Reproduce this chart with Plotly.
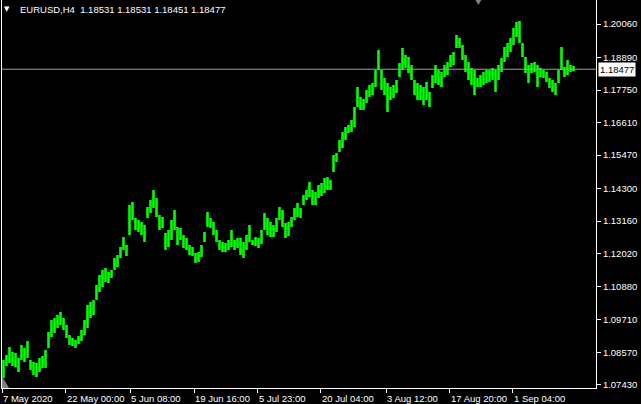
import plotly.graph_objects as go

symbol_title = "EURUSD,H4\u00a0\u00a01.18531 1.18531 1.18451 1.18477"
last_price = 1.18477

highs = [
    1.0830, 1.08475, 1.08755, 1.0858, 1.08545, 1.0837, 1.08825, 1.0872, 1.08965, 1.0830,
    1.0823, 1.08195, 1.0837, 1.0844, 1.0865, 1.0928, 1.0970, 1.0977, 1.09875, 1.0998,
    1.0977, 1.09525, 1.09175, 1.0907, 1.0900, 1.0914, 1.0935, 1.0970, 1.10225, 1.1033,
    1.1040, 1.10925, 1.11275, 1.1145, 1.1152, 1.1138, 1.1145, 1.1187, 1.11975, 1.12255,
    1.12605, 1.12325, 1.13725, 1.1383, 1.1327, 1.1320, 1.1313, 1.13025, 1.13655, 1.1390,
    1.1425, 1.1397, 1.13375, 1.13305, 1.12745, 1.1285, 1.1320, 1.1355, 1.12955, 1.1292,
    1.12675, 1.1257, 1.12325, 1.12255, 1.12045, 1.1208, 1.12325, 1.1278, 1.1348, 1.1327,
    1.1313, 1.1285, 1.1250, 1.1243, 1.12395, 1.1250, 1.1285, 1.1250, 1.1257, 1.1257,
    1.1243, 1.12675, 1.13025, 1.1250, 1.12605, 1.1257, 1.1285, 1.13445, 1.1327, 1.1313,
    1.13025, 1.1327, 1.13655, 1.1355, 1.13095, 1.1313, 1.13305, 1.1362, 1.13795, 1.1362,
    1.14075, 1.1425, 1.1453, 1.1425, 1.1418, 1.14425, 1.14495, 1.1467, 1.14705, 1.1460,
    1.15475, 1.15545, 1.1600, 1.1628, 1.16455, 1.16525, 1.1670, 1.17155, 1.17855, 1.17505,
    1.17435, 1.1775, 1.17925, 1.17995, 1.1845, 1.1915, 1.1845, 1.1817, 1.17995, 1.17855,
    1.17925, 1.1810, 1.18695, 1.1922, 1.18975, 1.18905, 1.18625, 1.1810, 1.17995, 1.17925,
    1.17855, 1.1803, 1.1768, 1.18275, 1.18625, 1.1845, 1.1838, 1.18625, 1.1873, 1.18975,
    1.1908, 1.19675, 1.1957, 1.19325, 1.18975, 1.1873, 1.1852, 1.1845, 1.1817, 1.18275,
    1.1838, 1.1845, 1.1845, 1.1852, 1.1845, 1.18625, 1.1887, 1.19255, 1.19395, 1.1957,
    1.1992, 1.2013, 1.20165, 1.19395, 1.18905, 1.18625, 1.18695, 1.1873, 1.18625, 1.1852,
    1.1845, 1.1838, 1.1817, 1.1810, 1.17995, 1.1845, 1.19255, 1.18555, 1.1880, 1.18625,
    1.1859,
]

lows = [
    1.0767, 1.0809, 1.08195, 1.0809, 1.08055, 1.0788, 1.0830, 1.0823, 1.0837, 1.0795,
    1.07775, 1.07705, 1.0788, 1.0802, 1.0802, 1.0872, 1.09105, 1.09245, 1.0942, 1.09525,
    1.0935, 1.0907, 1.08825, 1.0879, 1.0872, 1.0886, 1.08965, 1.09175, 1.0942, 1.0977,
    1.09875, 1.1040, 1.1068, 1.10855, 1.1103, 1.10995, 1.1117, 1.1145, 1.11555, 1.1187,
    1.1215, 1.1194, 1.12675, 1.1320, 1.1285, 1.1278, 1.12675, 1.1243, 1.1327, 1.13445,
    1.1362, 1.13305, 1.1285, 1.1292, 1.1215, 1.12255, 1.1250, 1.1285, 1.12325, 1.1250,
    1.1222, 1.1215, 1.11975, 1.1194, 1.11695, 1.1173, 1.11905, 1.1243, 1.12955, 1.1292,
    1.12675, 1.1243, 1.1215, 1.1208, 1.1208, 1.1215, 1.12255, 1.1215, 1.1222, 1.11975,
    1.1187, 1.1215, 1.1243, 1.12325, 1.1229, 1.1222, 1.1236, 1.1285, 1.12675, 1.12605,
    1.12605, 1.1278, 1.1320, 1.12955, 1.1257, 1.1264, 1.12955, 1.1320, 1.13305, 1.1327,
    1.13725, 1.1390, 1.14005, 1.13725, 1.13725, 1.1397, 1.1404, 1.14145, 1.1425, 1.1425,
    1.1488, 1.1523, 1.1558, 1.1572, 1.1600, 1.16245, 1.1628, 1.16455, 1.17155, 1.1705,
    1.1705, 1.17295, 1.17505, 1.17575, 1.17855, 1.1845, 1.1775, 1.17575, 1.1698, 1.1740,
    1.1747, 1.17645, 1.18205, 1.1845, 1.1852, 1.18345, 1.1810, 1.17575, 1.1740, 1.1740,
    1.17225, 1.1740, 1.17155, 1.1782, 1.17995, 1.17925, 1.17855, 1.18205, 1.18275, 1.18555,
    1.18625, 1.1922, 1.1922, 1.1880, 1.1838, 1.1810, 1.17925, 1.17575, 1.17855, 1.17855,
    1.17925, 1.17995, 1.1803, 1.1810, 1.1768, 1.1810, 1.1838, 1.1873, 1.18905, 1.1908,
    1.19325, 1.19605, 1.19395, 1.18905, 1.18345, 1.17995, 1.18345, 1.1838, 1.17855, 1.18205,
    1.1817, 1.1803, 1.1782, 1.1768, 1.17575, 1.17995, 1.1845, 1.18205, 1.18275, 1.1838,
    1.18415,
]

time_labels = ["7 May 2020", "22 May 00:00", "5 Jun 08:00", "19 Jun 16:00", "5 Jul 23:00",
               "20 Jul 04:00", "3 Aug 12:00", "17 Aug 20:00", "1 Sep 04:00"]
time_label_bars = [-0.5, 20.8, 42.2, 63.5, 84.8, 105.8, 127.5, 148.8, 169.8]

price_ticks = [1.20060, 1.18890, 1.17750, 1.16610, 1.15470, 1.14300, 1.13160,
               1.12020, 1.10880, 1.09710, 1.08570, 1.07430]

FONT = "Liberation Sans, Arial, sans-serif"

xs, ys = [], []
for i, (h, l) in enumerate(zip(highs, lows)):
    xs += [i, i, None]
    ys += [l, h, None]

fig = go.Figure()
fig.add_trace(go.Scatter(x=xs, y=ys, mode="lines",
                         line=dict(color="#00ff00", width=2.6),
                         hoverinfo="skip", showlegend=False))

# current price line
fig.add_shape(type="line", xref="paper", x0=0, x1=1, yref="y",
              y0=last_price, y1=last_price, line=dict(color="#a0a0a0", width=1))

annotations = []
for lab, b in zip(time_labels, time_label_bars):
    annotations.append(dict(x=b, y=0, xref="x", yref="paper", text=lab,
                            xanchor="left", yanchor="top", yshift=-3, xshift=-1,
                            showarrow=False, font=dict(color="white", size=9.5, family=FONT)))

annotations.append(dict(x=1, y=last_price, xref="paper", yref="y",
                        text=f"{last_price:.5f}", xanchor="left", yanchor="middle",
                        xshift=2, showarrow=False, bgcolor="white", borderpad=1,
                        font=dict(color="black", size=9.5, family=FONT)))
annotations.append(dict(x=0.027, y=1, xref="paper", yref="paper", text=symbol_title,
                        xanchor="left", yanchor="top", yshift=-2, showarrow=False,
                        font=dict(color="white", size=9.5, family=FONT)))
annotations.append(dict(x=0.0085, y=1, xref="paper", yref="paper", text="\u25BC",
                        xanchor="center", yanchor="top", yshift=-3, showarrow=False,
                        font=dict(color="white", size=7, family="DejaVu Sans")))

# small chart-shift marker at top and scroll marker bottom-left
fig.add_shape(type="path", xref="paper", yref="paper",
              path="M 0.797 1 L 0.807 1 L 0.802 0.987 Z",
              fillcolor="#808080", line=dict(width=0))
fig.add_shape(type="path", xref="paper", yref="paper",
              path="M 0 0 L 0 0.03 L 0.012 0 Z",
              fillcolor="#808080", line=dict(width=0))

fig.update_layout(
    width=641, height=404,
    margin=dict(l=2, r=45, t=0, b=16),
    paper_bgcolor="black", plot_bgcolor="black",
    annotations=annotations,
    xaxis=dict(range=[-0.5, 197.5], showgrid=False, zeroline=False,
               tickvals=time_label_bars, ticktext=[""] * len(time_labels),
               ticks="outside", ticklen=4, tickcolor="white",
               showline=True, linecolor="white", linewidth=1),
    yaxis=dict(range=[1.0732, 1.2090], side="right", showgrid=False, zeroline=False,
               tickvals=price_ticks, ticktext=[f"{v:.5f}" for v in price_ticks],
               ticks="outside", ticklen=4, tickcolor="white",
               tickfont=dict(color="white", size=9.5, family=FONT),
               showline=True, linecolor="white", linewidth=1, mirror=True),
)

fig.write_html("out.html", config={"displayModeBar": False},
               post_script="document.body.style.margin='0';document.body.style.background='black';")
